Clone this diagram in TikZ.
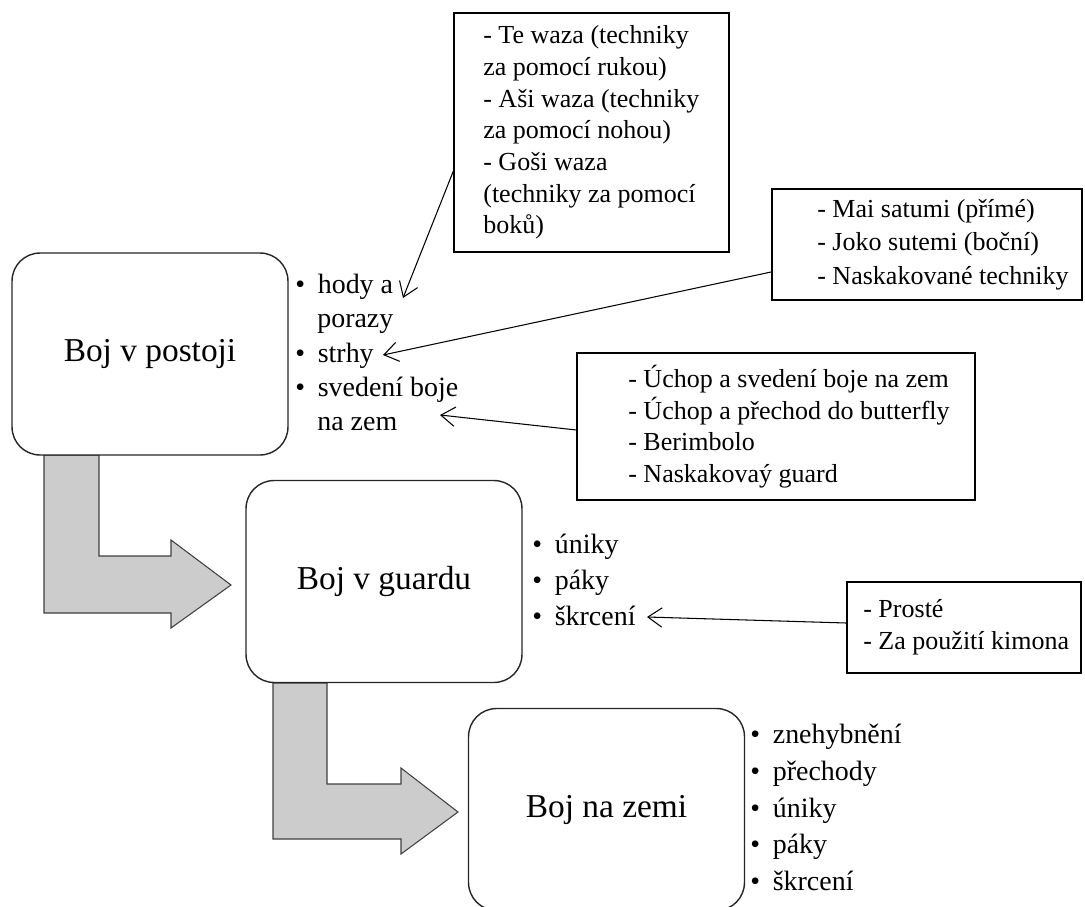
\documentclass[tikz,border=0pt]{standalone}
\usepackage{fontspec}
\setmainfont{Liberation Serif}
\usetikzlibrary{arrows.meta}
\newcommand\blt{\makebox[0.45cm][l]{•}}
\begin{document}
\begin{tikzpicture}[x=0.02cm,y=-0.02cm,
  phasebox/.style={draw=black!85, line width=0.8pt, fill=white, rounded corners=0.56cm,
    minimum width=5.52cm, minimum height=4.04cm, inner sep=0pt,
    font=\fontsize{19pt}{22pt}\selectfont},
  infobox/.style={draw, line width=0.75pt, inner sep=0pt},
  infotext/.style={anchor=west, align=left, inner sep=0pt,
    font=\fontsize{14.8pt}{18pt}\selectfont},
  listitem/.style={anchor=base west, inner sep=0pt, font=\fontsize{15.9pt}{19pt}\selectfont},
  bentarrow/.style={fill=black!20, draw=black!75, line width=0.6pt, line join=miter},
  conn/.style={-{Straight Barb[length=8pt,width=11pt]}, line width=0.6pt},
]
\useasboundingbox (0,0) rectangle (1085,906);

% bent arrows between the phases
\draw[bentarrow] (44,455) -- (99,455) -- (99,556) -- (171,556) -- (171,540) -- (231,585)
  -- (171,628) -- (171,613) -- (44,613) -- cycle;
\draw[bentarrow] (273,683) -- (327,683) -- (327,784) -- (401,784) -- (401,768) -- (458,812)
  -- (401,854) -- (401,839) -- (273,839) -- cycle;

% phases
\node[phasebox] (stand)  at (150,354)   {Boj v postoji};
\node[phasebox] (guard)  at (384,581.5) {Boj v guardu};
\node[phasebox] (ground) at (606.5,809.5) {Boj na zemi};

% bullet lists
\node[listitem] (hody)    at (295,293) {\blt hody a};
\node[listitem] (porazy)  at (317,327) {porazy};
\node[listitem] (strhy)   at (295,362) {\blt strhy};
\node[listitem] (sved)    at (295,396) {\blt svedení boje};
\node[listitem] (nazem)   at (317,430) {na zem};

\node[listitem] (gunik)   at (532,553) {\blt úniky};
\node[listitem] (gpaky)   at (532,589) {\blt páky};
\node[listitem] (gskrc)   at (532,625) {\blt škrcení};

\node[listitem] (znehyb)  at (750,743) {\blt znehybnění};
\node[listitem] (prech)   at (750,780) {\blt přechody};
\node[listitem] (zunik)   at (750,817) {\blt úniky};
\node[listitem] (zpaky)   at (750,853) {\blt páky};
\node[listitem] (zskrc)   at (750,890) {\blt škrcení};

% technique boxes
\node[infobox, minimum width=5.5cm, minimum height=4.78cm] (info1) at (591.5,132.5) {};
\node[infotext] (info1t) at (483,132.5) {- Te waza (techniky\\za pomocí rukou)\\- Aši waza (techniky\\za pomocí nohou)\\- Goši waza\\(techniky za pomocí\\boků)};

\node[infobox, line width=1.1pt, minimum width=6.2cm, minimum height=2.22cm] (info2) at (927,244.5) {};
\node[infotext, font=\fontsize{14.8pt}{19pt}\selectfont] (info2t) at (817,244.5) {- Mai satumi (přímé)\\- Joko sutemi (boční)\\- Naskakované techniky};

\node[infobox, minimum width=7.96cm, minimum height=2.94cm] (info3) at (776,426.5) {};
\node[infotext] (info3t) at (628,426.5) {- Úchop a svedení boje na zem\\- Úchop a přechod do butterfly\\- Berimbolo\\- Naskakovaý guard};

\node[infobox, minimum width=4.68cm, minimum height=1.82cm] (info4) at (964,627.5) {};
\node[infotext] (info4t) at (863,627.5) {- Prosté\\- Za použití kimona};

% connectors
\coordinate (tipHody)  at (403,298);
\coordinate (tipStrhy) at (383,355);
\coordinate (tipZem)   at (440,415);
\coordinate (tipSkrc)  at (647,617);
\draw[conn] (info1.west |- 0,171) -- (tipHody);
\draw[conn] (info2.west |- 0,272) -- (tipStrhy);
\draw[conn] (info3.west |- 0,430) -- (tipZem);
\draw[conn] (info4.west |- 0,623) -- (tipSkrc);
\end{tikzpicture}
\end{document}
